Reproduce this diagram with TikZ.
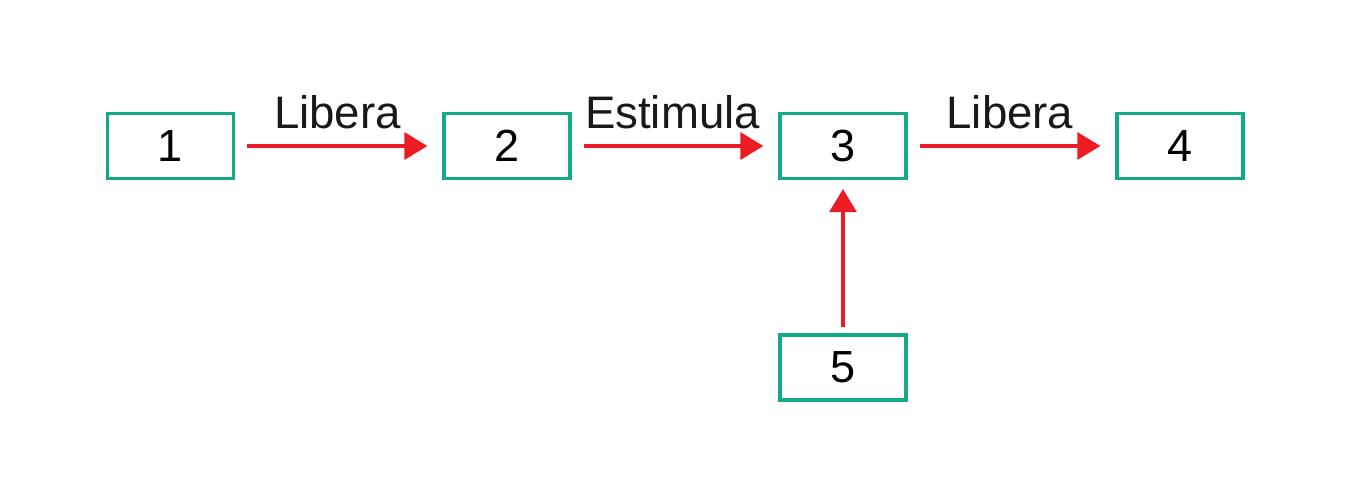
\documentclass[tikz,border=0pt]{standalone}
\usepackage{fontspec}
\setmainfont{Liberation Sans}
\usetikzlibrary{arrows.meta}
\definecolor{boxgreen}{RGB}{20,170,135}
\definecolor{arrred}{RGB}{236,28,36}
\begin{document}
\begin{tikzpicture}[x=0.5pt,y=-0.5pt,
  box/.style={draw=boxgreen,line width=1.6pt,minimum width=63pt,minimum height=32.5pt,inner sep=0pt,font=\fontsize{22.5}{26}\selectfont,fill=white},
  conn/.style={draw=arrred,line width=1.6pt,-{Triangle[length=11.5pt,width=13.5pt]}},
  lab/.style={anchor=base,inner sep=0pt,font=\fontsize{22.8}{26}\selectfont,text=black!90}]
\useasboundingbox (0,0) rectangle (1371,483);
\node[box] (b1) at (170.5,146) {1};
\node[box] (b2) at (507,146) {2};
\node[box] (b3) at (843,146) {3};
\node[box] (b4) at (1180,146) {4};
\node[box] (b5) at (843,367.5) {5};
\draw[conn,shorten <=6pt,shorten >=7.5pt] (b1) -- (b2);
\draw[conn,shorten <=6pt,shorten >=7.5pt] (b2) -- (b3);
\draw[conn,shorten <=6pt,shorten >=7.5pt] (b3) -- (b4);
\draw[conn,shorten <=3pt,shorten >=4.5pt] (b5) -- (b3);
\node[lab] (l1) at (337.5,128) {Libera};
\node[lab] (l2) at (672.5,128) {Estimula};
\node[lab] (l3) at (1010,128) {Libera};
\end{tikzpicture}
\end{document}
